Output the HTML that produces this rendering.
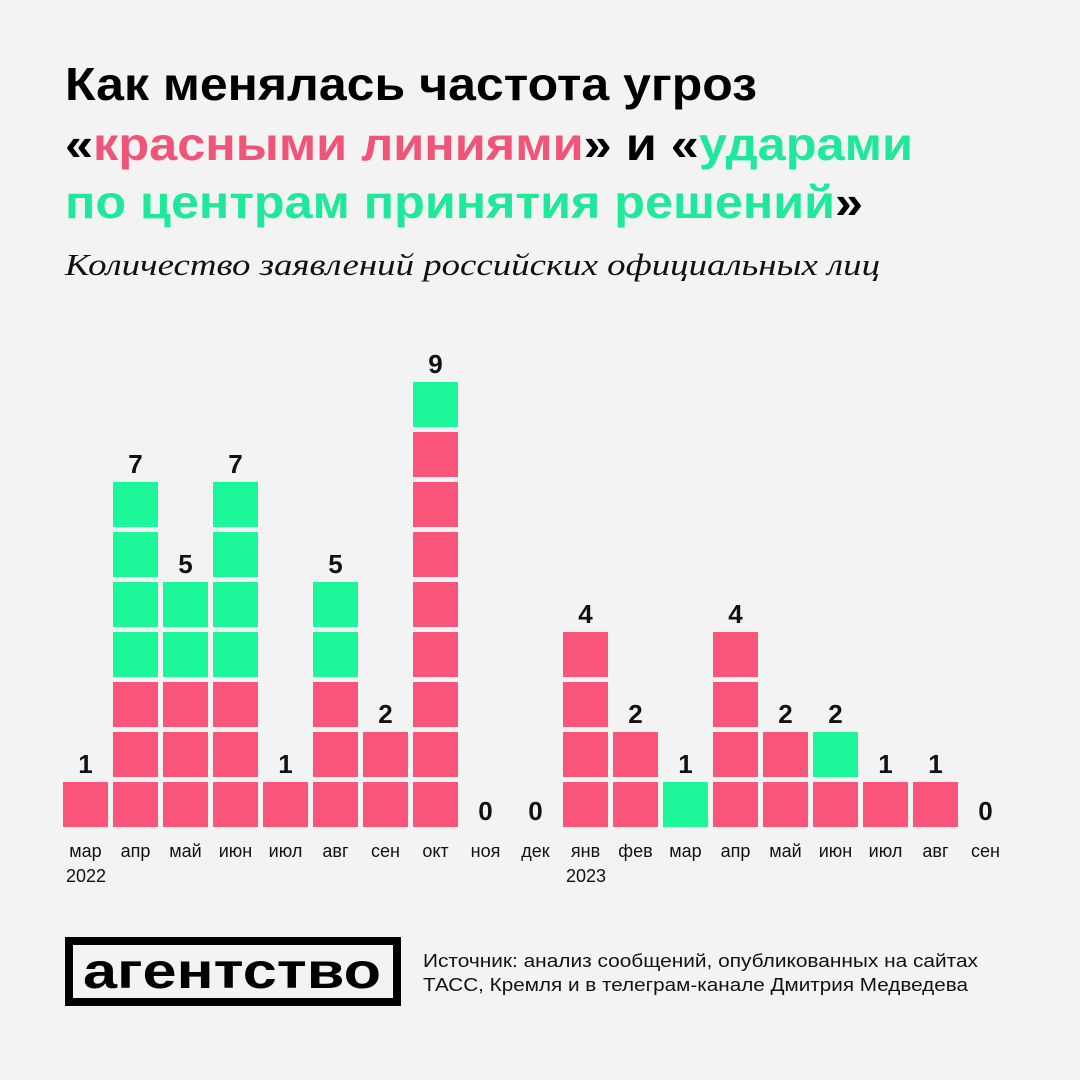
<!DOCTYPE html>
<html><head><meta charset="utf-8"><style>
html,body{margin:0;padding:0;background:#f3f3f3}
svg{display:block}
</style></head><body>
<svg width="1080" height="1080" viewBox="0 0 1080 1080" xmlns="http://www.w3.org/2000/svg" font-family="Liberation Sans, sans-serif">
<defs>
<pattern id="pk" patternUnits="userSpaceOnUse" x="63" y="782" width="50" height="50"><rect width="45" height="45" fill="#f95479"/></pattern>
<pattern id="gr" patternUnits="userSpaceOnUse" x="63" y="782" width="50" height="50"><rect width="45" height="45" fill="#1cf79a"/></pattern>
</defs>
<rect width="1080" height="1080" fill="#f3f3f3"/>
<g font-weight="bold" font-size="46">
<text x="65" y="100" fill="#000" textLength="692" lengthAdjust="spacingAndGlyphs">Как менялась частота угроз</text>
<text x="65" y="160" textLength="848" lengthAdjust="spacingAndGlyphs"><tspan fill="#000">«</tspan><tspan fill="#f05478">красными линиями</tspan><tspan fill="#000">» и «</tspan><tspan fill="#1ee89a">ударами</tspan></text>
<text x="65" y="218" textLength="798" lengthAdjust="spacingAndGlyphs"><tspan fill="#1ee89a">по центрам принятия решений</tspan><tspan fill="#000">»</tspan></text>
</g>
<text x="65" y="275" font-family="Liberation Serif, serif" font-style="italic" font-size="31" fill="#111" textLength="815" lengthAdjust="spacingAndGlyphs">Количество заявлений российских официальных лиц</text>

<!-- pink -->
<rect x="63" y="782" width="50" height="50" fill="url(#pk)"/>
<rect x="113" y="682" width="50" height="150" fill="url(#pk)"/>
<rect x="163" y="682" width="50" height="150" fill="url(#pk)"/>
<rect x="213" y="682" width="50" height="150" fill="url(#pk)"/>
<rect x="263" y="782" width="50" height="50" fill="url(#pk)"/>
<rect x="313" y="682" width="50" height="150" fill="url(#pk)"/>
<rect x="363" y="732" width="50" height="100" fill="url(#pk)"/>
<rect x="413" y="432" width="50" height="400" fill="url(#pk)"/>
<rect x="563" y="632" width="50" height="200" fill="url(#pk)"/>
<rect x="613" y="732" width="50" height="100" fill="url(#pk)"/>
<rect x="713" y="632" width="50" height="200" fill="url(#pk)"/>
<rect x="763" y="732" width="50" height="100" fill="url(#pk)"/>
<rect x="813" y="782" width="50" height="50" fill="url(#pk)"/>
<rect x="863" y="782" width="50" height="50" fill="url(#pk)"/>
<rect x="913" y="782" width="50" height="50" fill="url(#pk)"/>
<!-- green -->
<rect x="113" y="482" width="50" height="200" fill="url(#gr)"/>
<rect x="163" y="582" width="50" height="100" fill="url(#gr)"/>
<rect x="213" y="482" width="50" height="200" fill="url(#gr)"/>
<rect x="313" y="582" width="50" height="100" fill="url(#gr)"/>
<rect x="413" y="382" width="50" height="50" fill="url(#gr)"/>
<rect x="663" y="782" width="50" height="50" fill="url(#gr)"/>
<rect x="813" y="732" width="50" height="50" fill="url(#gr)"/>

<g font-size="18" fill="#111" text-anchor="middle">
<text x="85.5" y="857">мар</text><text x="135.5" y="857">апр</text><text x="185.5" y="857">май</text><text x="235.5" y="857">июн</text><text x="285.5" y="857">июл</text><text x="335.5" y="857">авг</text><text x="385.5" y="857">сен</text><text x="435.5" y="857">окт</text><text x="485.5" y="857">ноя</text><text x="535.5" y="857">дек</text><text x="585.5" y="857">янв</text><text x="635.5" y="857">фев</text><text x="685.5" y="857">мар</text><text x="735.5" y="857">апр</text><text x="785.5" y="857">май</text><text x="835.5" y="857">июн</text><text x="885.5" y="857">июл</text><text x="935.5" y="857">авг</text><text x="985.5" y="857">сен</text>
<text x="86" y="882">2022</text><text x="586" y="882">2023</text>
</g>
<g font-weight="bold" font-size="26" fill="#111" text-anchor="middle">
<text x="85.5" y="773">1</text><text x="135.5" y="473">7</text><text x="185.5" y="573">5</text><text x="235.5" y="473">7</text><text x="285.5" y="773">1</text><text x="335.5" y="573">5</text><text x="385.5" y="723">2</text><text x="435.5" y="373">9</text><text x="485.5" y="820">0</text><text x="535.5" y="820">0</text><text x="585.5" y="623">4</text><text x="635.5" y="723">2</text><text x="685.5" y="773">1</text><text x="735.5" y="623">4</text><text x="785.5" y="723">2</text><text x="835.5" y="723">2</text><text x="885.5" y="773">1</text><text x="935.5" y="773">1</text><text x="985.5" y="820">0</text>
</g>

<rect x="69" y="941" width="328" height="61" fill="none" stroke="#000" stroke-width="8"/>
<text x="232" y="988" font-weight="bold" font-size="50" text-anchor="middle" fill="#000" textLength="298" lengthAdjust="spacingAndGlyphs">агентство</text>
<text x="423" y="967" font-size="18" fill="#111" textLength="555" lengthAdjust="spacingAndGlyphs">Источник: анализ сообщений, опубликованных на сайтах</text>
<text x="423" y="991" font-size="18" fill="#111" textLength="545" lengthAdjust="spacingAndGlyphs">ТАСС, Кремля и в телеграм-канале Дмитрия Медведева</text>
</svg>
</body></html>
